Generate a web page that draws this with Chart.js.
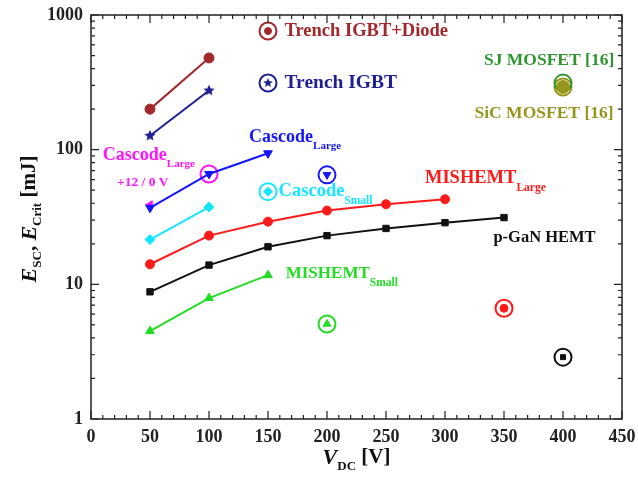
<!DOCTYPE html>
<html>
<head>
<meta charset="utf-8">
<script src="https://cdn.jsdelivr.net/npm/chart.js@4"></script>
<style>
  html, body { margin: 0; padding: 0; background: #fff; }
  #wrap { width: 638px; height: 477px; position: relative; }
</style>
</head>
<body>
<div id="wrap"><canvas id="chartEsc"></canvas></div>
<script>
// measured series (V_DC in V, energy in mJ)
const vTwo = [50, 100];
const vThree = [50, 100, 150];
const vMisLarge = [50, 100, 150, 200, 250, 300];
const vGaN = [50, 100, 150, 200, 250, 300, 350];

const eTrenchDiode = [200, 480];
const eTrenchIgbt = [127, 275];
const eCascLarge = [37, 66, 94];
const eCascLarge12 = [39];
const eCascSmall = [21.5, 37.5];
const eMisLarge = [14.1, 23, 29.2, 35.3, 39.3, 42.8];
const eGaN = [8.8, 13.9, 19, 23, 26, 28.7, 31.3];
const eMisSmall = [4.5, 7.9, 11.7];

// critical energy points (circled)
const critNames = ['Trench IGBT+Diode', 'Trench IGBT', 'Cascode Large +12/0 V', 'Cascode Large', 'Cascode Small', 'MISHEMT Large', 'p-GaN HEMT', 'MISHEMT Small', 'SiC MOSFET [16]', 'SJ MOSFET [16]'];
const critV = [150, 150, 100, 200, 150, 350, 400, 200, 400, 400];
const critE = [760, 313, 66, 65, 48.8, 6.64, 2.88, 5.08, 292, 312];

const xTicks = [0, 50, 100, 150, 200, 250, 300, 350, 400, 450];
const yTicks = [1, 10, 100, 1000];

const C = {
  diode: '#a3282b', igbt: '#1e1e96', cascL: '#1414ff', mag: '#ff14ff', cyan: '#14e6ff',
  red: '#ff1a1a', black: '#111111', green: '#22dd22', sj: '#2e962e', sic: '#96961e'
};
const critColor = [C.diode, C.igbt, C.mag, C.cascL, C.cyan, C.red, C.black, C.green, C.sic, C.sj];

function starImg(color, r) {
  const c = document.createElement('canvas');
  c.width = c.height = r * 2 + 2;
  const g = c.getContext('2d');
  g.fillStyle = color;
  g.beginPath();
  for (let i = 0; i < 10; i++) {
    const rr = i % 2 ? r * 0.45 : r;
    const a = -Math.PI / 2 + i * Math.PI / 5;
    g.lineTo(r + 1 + rr * Math.cos(a), r + 1 + rr * Math.sin(a));
  }
  g.closePath();
  g.fill();
  return c;
}

const pts = (xs, ys) => xs.map((x, i) => ({ x, y: ys[i] }));

function line(label, xs, ys, color, style, extra = {}) {
  return {
    label, data: pts(xs, ys), showLine: true, borderColor: color, backgroundColor: color,
    borderWidth: 2, pointStyle: style, pointRadius: 4.5, pointBorderWidth: 1, pointBorderColor: color, ...extra
  };
}

const innerStyle = ['circle', starImg(C.igbt, 5), false, 'triangle', 'rectRot', 'circle', 'rect', 'triangle', 'circle', false];
const innerRot = [0, 0, 0, 180, 0, 0, 0, 0, 0, 0];
const innerRad = [3.5, 5, 0, 4.5, 4.5, 4, 3.5, 4.5, 6.5, 0];

const datasets = [
  line('Trench IGBT+Diode', vTwo, eTrenchDiode, C.diode, 'circle', { pointRadius: 5 }),
  line('Trench IGBT', vTwo, eTrenchIgbt, C.igbt, starImg(C.igbt, 6)),
  line('Cascode Large', vThree, eCascLarge, C.cascL, 'triangle', { pointRotation: 180, pointRadius: 5 }),
  { label: 'Cascode Large +12/0 V', data: pts([50], eCascLarge12), backgroundColor: C.mag, borderColor: C.mag,
    pointStyle: 'triangle', pointRotation: 270, pointRadius: 4.5 },
  line('Cascode Small', vTwo, eCascSmall, C.cyan, 'rectRot', { pointRadius: 5 }),
  line('MISHEMT Large', vMisLarge, eMisLarge, C.red, 'circle'),
  line('p-GaN HEMT', vGaN, eGaN, C.black, 'rect', { pointRadius: 4.5 }),
  line('MISHEMT Small', vThree, eMisSmall, C.green, 'triangle', { pointRadius: 5 }),
  { label: 'critical inner', data: pts(critV, critE), pointStyle: innerStyle, pointRotation: innerRot,
    pointRadius: innerRad, backgroundColor: critColor, borderColor: critColor, pointBorderWidth: 1 },
  { label: 'critical ring', data: pts(critV, critE), pointStyle: 'circle', pointRadius: 8.5,
    backgroundColor: 'rgba(0,0,0,0)', borderColor: critColor, pointBorderWidth: 2 }
];

const SERIF = '"Liberation Serif", "DejaVu Serif", serif';

// text labels: [segments, x(V), y(mJ), color]
const notes = [
  [[['Trench IGBT+Diode', 18.5]], 164, 760, C.diode],
  [[['Trench IGBT', 19.5]], 164, 313, C.igbt],
  [[['Cascode', 18], ['Large', 11, 9]], 134, 124, C.cascL],
  [[['Cascode', 18], ['Large', 11, 9]], 10, 91, C.mag],
  [[['+12 / 0 V', 13.5]], 22, 57, C.mag],
  [[['Cascode', 18.5], ['Small', 11.5, 9]], 159, 48.8, C.cyan],
  [[['MISHEMT', 18.5], ['Large', 11.5, 9]], 283, 61, C.red],
  [[['p-GaN HEMT', 16.5]], 341, 22, C.black],
  [[['MISHEMT', 17], ['Small', 11.5, 9]], 165, 12.0, C.green],
  [[['SJ MOSFET [16]', 17.5]], 333, 456, C.sj],
  [[['SiC MOSFET [16]', 17.5]], 325, 187, C.sic]
];

function richText(ctx, segs, x, y, align) {
  let w = 0;
  segs.forEach(s => { ctx.font = `${s[3] || ''} bold ${s[1]}px ${SERIF}`; w += ctx.measureText(s[0]).width; });
  let cx = align === 'center' ? x - w / 2 : x;
  segs.forEach(s => {
    ctx.font = `${s[3] || ''} bold ${s[1]}px ${SERIF}`;
    ctx.fillText(s[0], cx, y + (s[2] || 0));
    cx += ctx.measureText(s[0]).width;
  });
}

const framePlugin = {
  id: 'frame',
  afterDraw(chart) {
    const { ctx, chartArea: a, scales: { x, y } } = chart;
    ctx.save();
    ctx.strokeStyle = '#222';
    ctx.lineWidth = 1.5;
    ctx.strokeRect(a.left, a.top, a.right - a.left, a.bottom - a.top);
    ctx.lineWidth = 1.2;
    ctx.beginPath();
    for (let v = 0; v <= 450; v += 10) {
      const px = x.getPixelForValue(v);
      const len = v % 50 === 0 ? 8 : 4;
      ctx.moveTo(px, a.bottom); ctx.lineTo(px, a.bottom - len);
      ctx.moveTo(px, a.top); ctx.lineTo(px, a.top + len);
    }
    for (let d = 1; d <= 1000; d *= 10) {
      for (let m = 1; m <= 9; m++) {
        const v = d * m;
        if (v > 1000) break;
        const py = y.getPixelForValue(v);
        const len = m === 1 ? 8 : 4;
        ctx.moveTo(a.left, py); ctx.lineTo(a.left + len, py);
        ctx.moveTo(a.right, py); ctx.lineTo(a.right - len, py);
      }
    }
    ctx.stroke();

    // annotations
    ctx.textBaseline = 'middle';
    ctx.textAlign = 'left';
    notes.forEach(([segs, vx, vy, col]) => {
      ctx.fillStyle = col;
      richText(ctx, segs, x.getPixelForValue(vx), y.getPixelForValue(vy), 'left');
    });

    // axis titles
    ctx.fillStyle = '#111';
    richText(ctx, [['V', 22, 0, 'italic'], ['DC', 13, 9], [' [V]', 21]], (a.left + a.right) / 2, 458, 'center');
    ctx.translate(30, (a.top + a.bottom) / 2 + 2);
    ctx.rotate(-Math.PI / 2);
    richText(ctx, [['E', 22, 0, 'italic'], ['SC', 13, 8], [', ', 21], ['E', 22, 0, 'italic'], ['Crit', 13, 8], [' [mJ]', 21]], 0, 0, 'center');
    ctx.restore();
  }
};

new Chart(document.getElementById('chartEsc'), {
  type: 'scatter',
  data: { datasets },
  options: {
    responsive: true, maintainAspectRatio: false, animation: false,
    layout: { padding: { top: 15, right: 16, left: 0, bottom: 0 } },
    plugins: { legend: { display: false }, tooltip: { enabled: false } },
    scales: {
      x: {
        type: 'linear', min: 0, max: 450,
        afterBuildTicks: s => { s.ticks = xTicks.map(value => ({ value })); },
        afterFit: s => { s.height = 58; },
        grid: { display: false }, border: { display: false },
        ticks: { color: '#222', padding: 0, font: { family: SERIF, size: 18, weight: 'bold' }, autoSkip: false }
      },
      y: {
        type: 'logarithmic', min: 1, max: 1000,
        afterBuildTicks: s => { s.ticks = yTicks.map(value => ({ value })); },
        afterFit: s => { s.width = 91; },
        grid: { display: false }, border: { display: false },
        ticks: { color: '#222', padding: 0, font: { family: SERIF, size: 18, weight: 'bold' }, autoSkip: false,
          callback: v => String(v) }
      }
    }
  },
  plugins: [framePlugin]
});
</script>
</body>
</html>
